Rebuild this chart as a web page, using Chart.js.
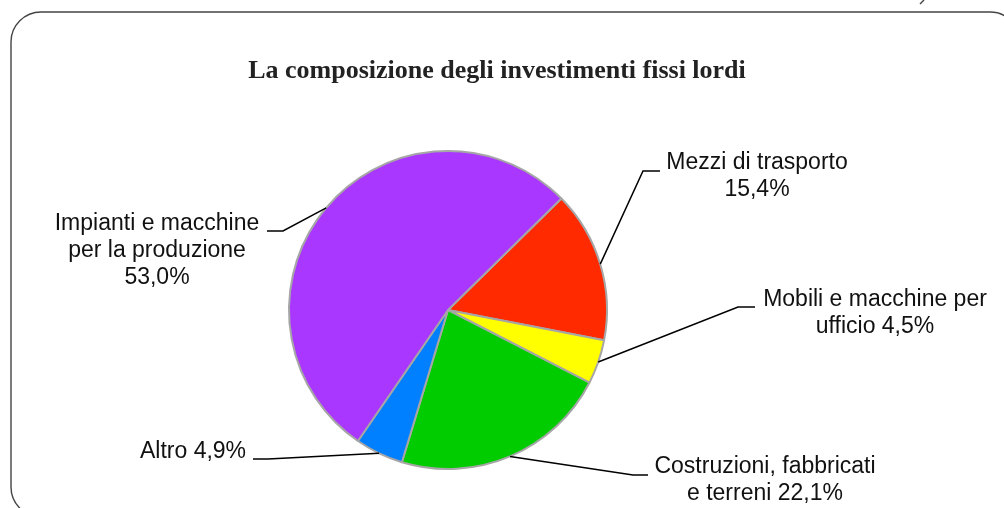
<!DOCTYPE html>
<html>
<head>
<meta charset="utf-8">
<script src="https://cdn.jsdelivr.net/npm/chart.js@4/dist/chart.umd.min.js"></script>
<style>
  html, body { margin: 0; padding: 0; background: #fff; }
  #wrap { width: 1004px; height: 508px; position: relative; }
</style>
</head>
<body>
<div id="wrap"><canvas id="pie-chart" width="1004" height="508"></canvas></div>
<script>
// Chart data
const categories = [
    ["Mezzi di trasporto"],
    ["Mobili e macchine per", "ufficio"],
    ["Costruzioni, fabbricati", "e terreni"],
    ["Altro"],
    ["Impianti e macchine", "per la produzione"]
];
const shares = [15.4, 4.5, 22.1, 4.9, 53.0];
const sliceColors = ["#FF2A00", "#FFFF00", "#00CC00", "#0080FF", "#AA37FF"];

const fmt = (v) => v.toFixed(1).replace(".", ",") + "%";

// label text lines: value goes on its own line or after the last word
const labelText = [
    [categories[0][0], fmt(shares[0])],
    [categories[1][0], categories[1][1] + " " + fmt(shares[1])],
    [categories[2][0], categories[2][1] + " " + fmt(shares[2])],
    [categories[3][0] + " " + fmt(shares[3])],
    [categories[4][0], categories[4][1], fmt(shares[4])]
];

// where each label sits (center x, first line y) and the elbow of its leader
const labelPlace = [
    {x: 757, y: 163, elbow: [[643, 171], [660, 171]]},
    {x: 875, y: 300, elbow: [[738, 307], [755, 307]]},
    {x: 765, y: 467, elbow: [[633, 475], [648, 475]]},
    {x: 193, y: 452, elbow: [[268, 459], [253, 459]]},
    {x: 157, y: 224, elbow: [[283, 231], [267, 231]]}
];

const framePlugin = {
    id: "frame",
    beforeDraw(chart) {
        const ctx = chart.ctx;
        ctx.save();
        ctx.strokeStyle = "#444";
        ctx.lineWidth = 1.4;
        ctx.beginPath();
        ctx.roundRect(11, 12, 1009, 505, 30);
        ctx.stroke();
        // little stray mark at the top
        ctx.beginPath();
        ctx.moveTo(920, 4);
        ctx.lineTo(924, 0);
        ctx.stroke();
        // title
        ctx.fillStyle = "#222";
        ctx.font = "bold 26px 'Liberation Serif', serif";
        ctx.textAlign = "center";
        ctx.textBaseline = "alphabetic";
        ctx.fillText("La composizione degli investimenti fissi lordi", 497, 78);
        ctx.restore();
    }
};

const leaderPlugin = {
    id: "leaders",
    afterDatasetsDraw(chart) {
        const ctx = chart.ctx;
        const arcs = chart.getDatasetMeta(0).data;
        ctx.save();
        ctx.strokeStyle = "#000";
        ctx.lineWidth = 1.5;
        arcs.forEach((arc, i) => {
            const mid = (arc.startAngle + arc.endAngle) / 2;
            const r = arc.outerRadius;
            const px = arc.x + Math.cos(mid) * r;
            const py = arc.y + Math.sin(mid) * r;
            const pl = labelPlace[i];
            ctx.beginPath();
            ctx.moveTo(px, py);
            pl.elbow.forEach(p => ctx.lineTo(p[0], p[1]));
            ctx.stroke();
        });
        ctx.fillStyle = "#111";
        ctx.font = "23px 'Liberation Sans', Arial, sans-serif";
        ctx.textAlign = "center";
        ctx.textBaseline = "middle";
        labelText.forEach((lines, i) => {
            const pl = labelPlace[i];
            lines.forEach((t, k) => ctx.fillText(t, pl.x, pl.y + k * 27));
        });
        ctx.restore();
    }
};

new Chart(document.getElementById("pie-chart"), {
    type: "pie",
    data: {
        labels: categories.map(c => c.join(" ")),
        datasets: [
            {
                data: shares,
                backgroundColor: sliceColors,
                borderColor: "#A6A6A6",
                borderWidth: 2
            }
        ]
    },
    options: {
        responsive: false,
        animation: false,
        rotation: 45.5,
        layout: {padding: {top: 150, bottom: 38, left: 0, right: 108}},
        plugins: {
            legend: {display: false},
            tooltip: {enabled: false}
        }
    },
    plugins: [framePlugin, leaderPlugin]
});
</script>
</body>
</html>
